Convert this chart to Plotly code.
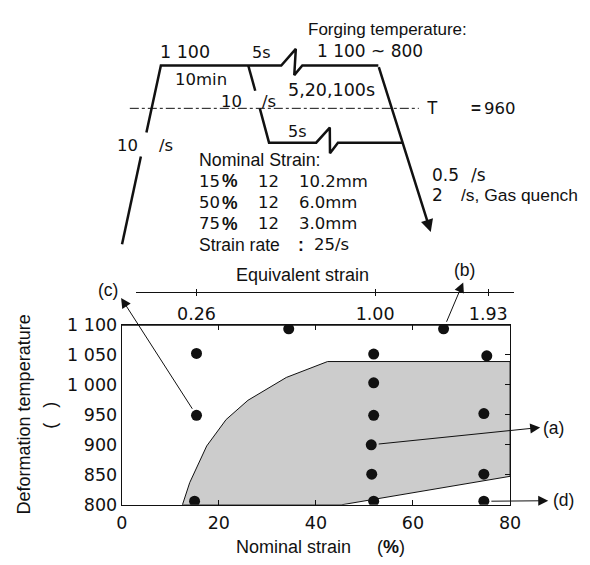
import plotly.graph_objects as go

# ---------------- data ----------------
strain_pts = [15.4, 15.4, 15.0, 34.4, 66.3, 51.9, 51.9, 51.9, 51.4, 51.5, 51.9, 75.2, 74.6, 74.6, 74.6]
temp_pts = [1052, 949, 806, 1093, 1093, 1051, 1003, 949, 900, 851, 806, 1048, 952, 851, 806]

region_strain = [12.5, 14.0, 17.5, 21.5, 26.0, 33.9, 42.4, 80, 80, 45.2, 12.5]
region_temp = [800, 837, 898, 942, 974, 1012, 1038.5, 1038.5, 847.5, 800, 800]

x_ticks = [0, 20, 40, 60, 80]
y_ticks = [800, 850, 900, 950, 1000, 1050, 1100]
y_ticktext = ["800", "850", "900", "950", "1 000", "1 050", "1 100"]
y_right_ticks = [850, 900, 950, 1000, 1050]

eq_tick_pos = [15.4, 52.2, 75.5]
eq_tick_text = ["0.26", "1.00", "1.93"]

# schematic (process diagram) paths, in window pixel coordinates
heat_low_x = [119.3, 138.7]
heat_low_y = [242.7, 151.7]
upper_path_x = [144.4, 159.3, 283.3, 298.3, 296.7, 305.0, 383.3]
upper_path_y = [126.7, 57.3, 57.3, 40.0, 67.3, 57.3, 57.3]
branch_top_x = [249.3, 256.5]
branch_top_y = [57.3, 83.5]
lower_path_x = [261.2, 270.7, 319.3, 333.3, 333.5, 341.7, 408.3]
lower_path_y = [101.7, 137.3, 137.3, 121.7, 148.3, 137.3, 137.3]
tline_x = [127.3, 425.0]
tline_y = [101.7, 101.7]
cool_start = (383.3, 57.3)
cool_end = (437.3, 230.0)

LF = "Liberation Sans, Arial, sans-serif"
DF = "DejaVu Sans, sans-serif"
INK = "#111111"

# the page body has an 8px default margin: size the figure to fit the window
OFF = 8
WIN_W, WIN_H = 590, 565
W, H = WIN_W - OFF, WIN_H - OFF
L, R, T, B = 119, 519, 326, 513   # plot box in window pixels


def px_x(v):
    return (v - OFF) / W


def px_y(v):
    return (WIN_H - v) / H


fig = go.Figure()

fig.add_trace(go.Scatter(x=region_strain, y=region_temp, mode="lines", fill="toself",
                         fillcolor="#cccccc", line=dict(color=INK, width=1),
                         xaxis="x", yaxis="y", hoverinfo="skip"))
fig.add_trace(go.Scatter(x=strain_pts, y=temp_pts, mode="markers",
                         marker=dict(size=11, color=INK), xaxis="x", yaxis="y"))

fig.add_trace(go.Scatter(x=[None], y=[None], xaxis="x3", yaxis="y"))
fig.add_trace(go.Scatter(x=[None], y=[None], xaxis="x4", yaxis="y"))
fig.add_trace(go.Scatter(x=[None], y=[None], xaxis="x", yaxis="y3"))

for xs, ys in [(heat_low_x, heat_low_y), (upper_path_x, upper_path_y),
               (branch_top_x, branch_top_y), (lower_path_x, lower_path_y)]:
    fig.add_trace(go.Scatter(x=xs, y=ys, mode="lines", line=dict(color=INK, width=2.5),
                             xaxis="x2", yaxis="y2", hoverinfo="skip"))
fig.add_trace(go.Scatter(x=tline_x, y=tline_y, mode="lines",
                         line=dict(color=INK, width=1, dash="dashdot"),
                         xaxis="x2", yaxis="y2", hoverinfo="skip"))

annotations = []


def txt(x, y, s, size=17.5, fam=LF, xanchor="left", angle=0):
    annotations.append(dict(x=x, y=y - 0.5, xref="x2", yref="y2", text=s, showarrow=False,
                            xanchor=xanchor, yanchor="middle", textangle=angle,
                            font=dict(family=fam, size=size, color=INK)))


txt(308.3, 20.8, "Forging temperature:", 17)
txt(318.3, 42.5, "1 100 ~ 800", 17, DF)
txt(156.7, 44.2, "1 100", 17.5, DF)
txt(250.7, 44.2, "5s", 16, DF)
txt(171.7, 72.8, "10min", 16.5, DF)
txt(219.0, 95.0, "10", 16.5, DF)
txt(261.7, 95.0, "/s", 16.5, DF)
txt(112.3, 140.8, "10", 16.5, DF)
txt(155.0, 140.8, "/s", 16.5, DF)
txt(288.3, 83.3, "5,20,100s", 17.5, DF)
txt(431.7, 102.0, "T", 17.5)
txt(476.7, 102.0, "<b>=</b>", 17)
txt(490.0, 102.0, "960", 16.5, DF)
txt(288.3, 126.7, "5s", 16, DF)
txt(196.7, 155.7, "Nominal Strain:", 17.8)
for yy, a, b in [(177.8, "15", "10.2mm"), (200.0, "50", "6.0mm"), (221.7, "75", "3.0mm")]:
    txt(196.7, yy, a, 16.5, DF)
    txt(220.0, yy, "<b>%</b>", 17.5)
    txt(257.3, yy, "12", 16.5, DF)
    txt(300.0, yy, b, 16.5, DF)
txt(196.7, 243.5, "Strain rate", 17.5)
txt(298.0, 243.5, "<b>:</b>", 17.5)
txt(315.0, 243.5, "25/s", 16.5, DF)
txt(436.7, 171.7, "0.5", 17, DF)
txt(476.7, 171.7, "/s", 17, DF)
txt(436.7, 192.0, "2", 17, DF)
txt(466.7, 192.0, "/s, Gas quench", 17.4)

txt(104.7, 291.0, "(c)", 17.5, xanchor="center")
txt(471.7, 270.0, "(b)", 17.5, xanchor="center")
txt(564.0, 434.0, "(a)", 17.5, xanchor="center")
txt(574.0, 508.0, "(d)", 17.5, xanchor="center")
txt(235.0, 274.7, "Equivalent strain", 18)
txt(18.0, 420.0, "Deformation temperature", 18, xanchor="center", angle=-90)
txt(45.0, 420.0, "(\u00a0\u00a0\u00a0)", 18, xanchor="center", angle=-90)
txt(235.0, 557.5, "Nominal strain", 18)
txt(380.0, 557.5, "(<b>%</b>)", 18)

annotations.append(dict(x=cool_end[0], y=cool_end[1], ax=cool_start[0], ay=cool_start[1],
                        xref="x2", yref="y2", axref="x2", ayref="y2", text="",
                        showarrow=True, arrowhead=2, arrowsize=1, arrowwidth=2.5,
                        arrowcolor=INK))

arrows = [((-0.14, 1144.4), (15.4, 949)),
          ((70.34, 1170.1), (66.3, 1093)),
          ((86.2, 928.8), (51.4, 900)),
          ((87.86, 806.9), (74.6, 806))]
for (tx, ty), (sx, sy) in arrows:
    annotations.append(dict(x=tx, y=ty, ax=sx, ay=sy, xref="x", yref="y",
                            axref="x", ayref="y", text="", showarrow=True,
                            arrowhead=2, arrowsize=2, arrowwidth=1, arrowcolor=INK,
                            startstandoff=6))

EQ_L, EQ_R, EQ_Y = 133.3, 523.3, 291.7

fig.update_layout(
    width=W, height=H, margin=dict(l=0, r=0, t=0, b=0),
    paper_bgcolor="white", plot_bgcolor="rgba(0,0,0,0)", showlegend=False,
    annotations=annotations,
    shapes=[dict(type="line", xref="x", yref="y", x0=0, x1=80, y0=1100, y1=1100,
                 line=dict(color=INK, width=2.5))],
    xaxis=dict(domain=[px_x(L), px_x(R)], range=[0, 80], tickvals=x_ticks, ticks="inside",
               ticklen=5, tickwidth=1.2, tickcolor=INK, showline=True, linecolor=INK,
               linewidth=1.2, mirror="ticks", showgrid=False, zeroline=False,
               tickfont=dict(family=DF, size=17.5, color=INK), ticklabelstandoff=2,
               anchor="y", fixedrange=True),
    yaxis=dict(domain=[px_y(B), px_y(T)], range=[800, 1100], tickvals=y_ticks,
               ticktext=y_ticktext, ticks="", showline=True, linecolor=INK, linewidth=1.2,
               mirror=True, showgrid=False, zeroline=False,
               tickfont=dict(family=DF, size=17.5, color=INK), ticklabelstandoff=0,
               anchor="x", fixedrange=True),
    yaxis3=dict(overlaying="y", side="right", range=[800, 1100], tickvals=y_right_ticks,
                ticks="inside", ticklen=5, tickwidth=1.2, tickcolor=INK,
                showticklabels=False, showline=False, showgrid=False, zeroline=False,
                anchor="x", fixedrange=True),
    xaxis2=dict(domain=[0, 1], range=[OFF, WIN_W], visible=False, anchor="y2", fixedrange=True),
    yaxis2=dict(domain=[0, 1], range=[WIN_H, OFF], visible=False, anchor="x2", fixedrange=True),
    xaxis3=dict(domain=[px_x(EQ_L), px_x(EQ_R)], range=[(EQ_L - L) / 5, (EQ_R - L) / 5],
                anchor="free", position=px_y(EQ_Y), side="bottom",
                tickvals=eq_tick_pos, ticktext=eq_tick_text, ticks="outside", ticklen=3,
                tickwidth=1.2, tickcolor=INK, showline=True, linecolor=INK, linewidth=1,
                showgrid=False, zeroline=False, ticklabelstandoff=3,
                tickfont=dict(family=DF, size=17.5, color=INK), fixedrange=True),
    xaxis4=dict(domain=[px_x(EQ_L), px_x(EQ_R)], range=[(EQ_L - L) / 5, (EQ_R - L) / 5],
                anchor="free", position=px_y(EQ_Y), side="bottom",
                tickvals=eq_tick_pos, ticks="inside", ticklen=3, tickwidth=1.2,
                tickcolor=INK, showticklabels=False, showline=False, showgrid=False,
                zeroline=False, fixedrange=True),
)

fig.write_html("out.html")
